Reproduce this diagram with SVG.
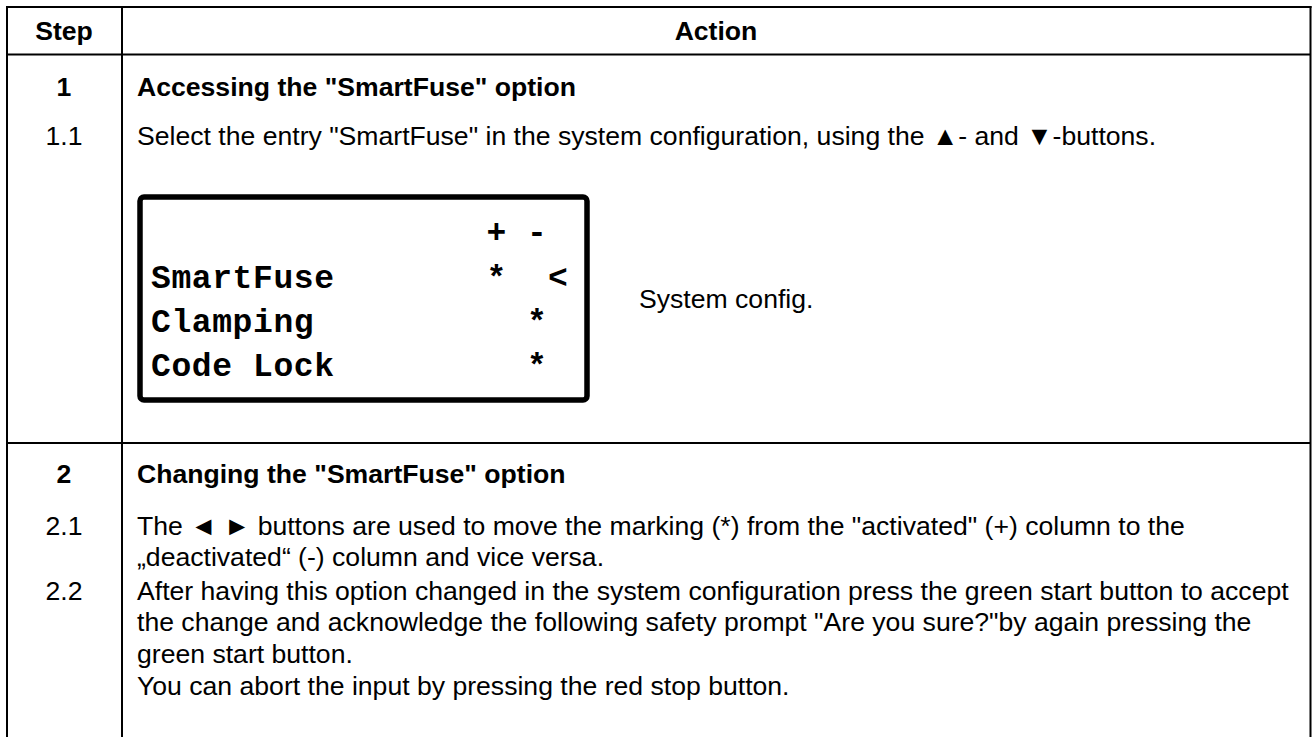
<svg xmlns="http://www.w3.org/2000/svg" width="1312" height="737" viewBox="0 0 1312 737">
<style>
.grid{stroke:#000;stroke-width:2;fill:none}
.t{font-family:"Liberation Sans",Arial,sans-serif;font-size:26.6px;fill:#000}
.b{font-weight:bold}
.c{text-anchor:middle}
.m{font-family:"Liberation Mono","Courier New",monospace;font-weight:bold;font-size:33px;letter-spacing:0.6px;fill:#000}
.mc{font-family:"Liberation Mono","Courier New",monospace;font-weight:bold;font-size:33px;fill:#000;text-anchor:middle}
</style>
<rect width="1312" height="737" fill="#fff"/>
<g id="grid">
<line class="grid" x1="6" y1="7" x2="1311.5" y2="7"/>
<line class="grid" x1="7" y1="6" x2="7" y2="737"/>
<line class="grid" x1="1310.5" y1="6" x2="1310.5" y2="737"/>
<line class="grid" x1="122" y1="7" x2="122" y2="737"/>
<line class="grid" x1="7" y1="54.5" x2="1310.5" y2="54.5"/>
<line class="grid" x1="7" y1="443" x2="1310.5" y2="443"/>
</g>
<g id="header">
<text class="t b c" x="64" y="40">Step</text>
<text class="t b c" x="716" y="40">Action</text>
</g>
<g id="row1">
<text class="t b c" x="64" y="96">1</text>
<text class="t b" x="137" y="96">Accessing the "SmartFuse" option</text>
<text class="t c" x="64" y="145">1.1</text>
<text class="t" x="137" y="145">Select the entry "SmartFuse" in the system configuration, using the ▲- and ▼-buttons.</text>
<text class="t" x="639" y="308">System config.</text>
</g>
<g id="lcd">
<rect x="140" y="197" width="447" height="203" rx="4" fill="none" stroke="#000" stroke-width="5.5"/>
<text class="mc" x="496.5" y="243">+</text>
<text class="mc" x="537" y="243">-</text>
<text class="m" x="151" y="288">SmartFuse</text>
<text class="mc" x="496.5" y="288">*</text>
<text class="mc" x="558" y="288">&lt;</text>
<text class="m" x="151" y="332">Clamping</text>
<text class="mc" x="537" y="332">*</text>
<text class="m" x="151" y="376">Code Lock</text>
<text class="mc" x="537" y="376">*</text>
</g>
<g id="row2">
<text class="t b c" x="64" y="483">2</text>
<text class="t b" x="137" y="483">Changing the "SmartFuse" option</text>
<text class="t c" x="64" y="535">2.1</text>
<text class="t" x="137" y="535">The ◄ ► buttons are used to move the marking (*) from the "activated" (+) column to the</text>
<text class="t" x="137" y="566">„deactivated“ (-) column and vice versa.</text>
<text class="t c" x="64" y="600">2.2</text>
<text class="t" x="137" y="600">After having this option changed in the system configuration press the green start button to accept</text>
<text class="t" x="137" y="631">the change and acknowledge the following safety prompt "Are you sure?"by again pressing the</text>
<text class="t" x="137" y="663">green start button.</text>
<text class="t" x="137" y="695">You can abort the input by pressing the red stop button.</text>
</g>
</svg>
